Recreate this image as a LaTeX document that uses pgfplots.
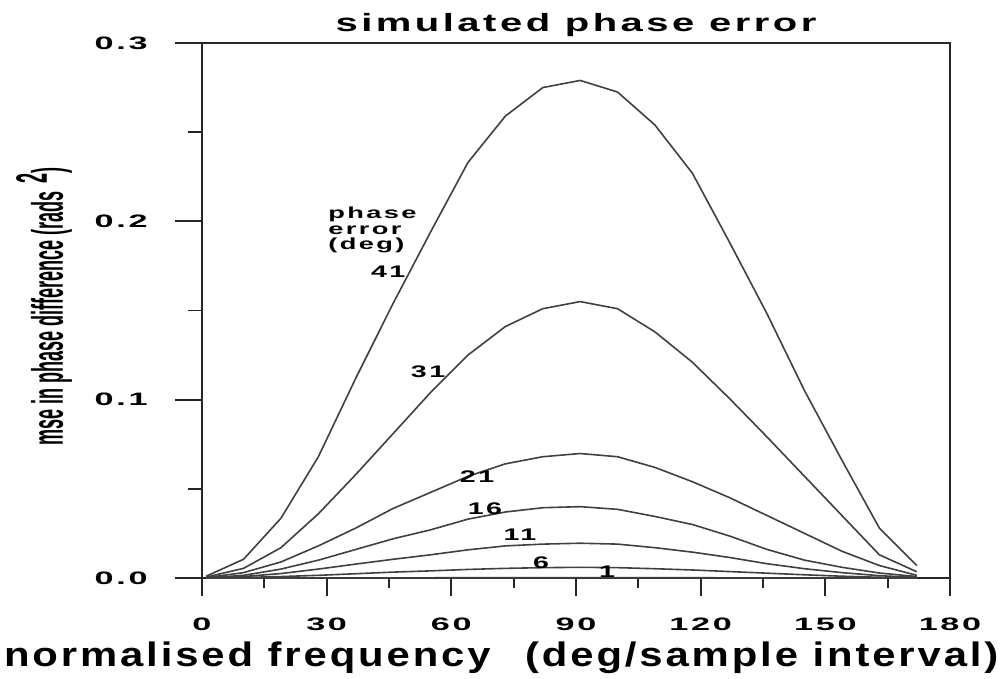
\documentclass[border=0pt]{standalone}
\usepackage{fontspec}
\usepackage{pgfplots}
\pgfplotsset{compat=1.18}
\setmainfont{Liberation Sans}
\newfontfamily\titlefont[FakeStretch=1.6,LetterSpace=14]{Liberation Sans}
\newfontfamily\tickfont[FakeStretch=1.9,LetterSpace=15]{Liberation Sans}
\newfontfamily\numfont[FakeStretch=1.7,LetterSpace=15]{Liberation Sans}
\newfontfamily\xlabfont[FakeStretch=1.23,LetterSpace=8.5]{Liberation Sans}
\newfontfamily\annfont[FakeStretch=1.7,LetterSpace=15]{Liberation Sans}
\newfontfamily\ylabfont[FakeStretch=0.41]{Liberation Sans}

\pgfplotstableread{
x     e41     e31     e21     e16     e11     e6      e1
1     0.001   0.0005  0.0002  0.0000  0.0000  0.0000  0.0000
10    0.0105  0.0054  0.0030  0.0015  0.0008  0.0003  0.00001
19    0.0335  0.0170  0.0090  0.0050  0.0025  0.0008  0.00002
28    0.068   0.036   0.018   0.010   0.0050  0.0015  0.00004
37    0.112   0.058   0.028   0.016   0.0078  0.0024  0.00007
46    0.154   0.081   0.039   0.022   0.0105  0.0033  0.00009
55    0.194   0.104   0.048   0.027   0.0130  0.0040  0.00011
64    0.233   0.125   0.057   0.033   0.0158  0.0048  0.00013
73    0.259   0.141   0.064   0.037   0.0180  0.0054  0.00015
82    0.275   0.151   0.068   0.0394  0.0190  0.0058  0.00016
91    0.279   0.155   0.0698  0.0400  0.0195  0.0060  0.00017
100   0.2725  0.151   0.068   0.0385  0.0190  0.0058  0.00016
109   0.254   0.138   0.062   0.0345  0.0170  0.0052  0.00015
118   0.227   0.121   0.054   0.0300  0.0145  0.0045  0.00013
127   0.188   0.1005  0.045   0.0235  0.0115  0.0036  0.00010
136   0.148   0.079   0.035   0.0160  0.0080  0.0027  0.00008
145   0.105   0.057   0.025   0.0100  0.0052  0.0018  0.00005
154   0.066   0.035   0.015   0.0060  0.0030  0.0010  0.00003
163   0.028   0.013   0.007   0.0028  0.0013  0.0004  0.00001
172   0.007   0.0035  0.0015  0.0008  0.0003  0.0001  0.00000
}\datatable

\begin{document}
\begin{tikzpicture}
\path[use as bounding box] (-101pt,-50.5pt) rectangle (399pt,289pt);
\begin{axis}[
  at={(0,0)}, anchor=south west, scale only axis,
  width=374pt, height=267.5pt,
  xmin=0, xmax=180, ymin=0, ymax=0.3,
  xtick={0,30,...,180}, ytick={0,0.1,0.2,0.3},
  minor x tick num=1, minor y tick num=1,
  tick align=outside, xtick pos=left, ytick pos=left,
  major tick length=9pt, minor tick length=5pt,
  y tick style={/pgfplots/major tick length=13.5pt,/pgfplots/minor tick length=7pt},
  axis line style={line width=0.9pt, black!85},
  tick style={line width=0.9pt, black!85},
  /pgf/number format/assume math mode=true,
  ticklabel style={font={\fontsize{9}{10}\selectfont\tickfont\bfseries}},
  y tick label style={/pgf/number format/fixed, /pgf/number format/fixed zerofill, /pgf/number format/precision=1,
    inner sep=0pt, anchor=east, xshift=-18pt},
  x tick label style={inner sep=0pt, anchor=north, yshift=-11pt},
  title={simulated phase error},
  title style={font={\fontsize{12.5}{14}\selectfont\titlefont\bfseries}, at={(axis description cs:0.5,1.03)}, anchor=base, inner sep=0pt, yshift=-8.5pt},
  xlabel={normalised frequency\hspace{10pt} (deg/sample interval)},
  xlabel style={font={\fontsize{17}{20}\selectfont\xlabfont\bfseries}, at={(axis description cs:0.4,-0.166)}, anchor=base, inner sep=0pt},
  ylabel={mse in phase difference (rads\,\raisebox{8pt}{2})},
  ylabel style={font={\fontsize{22}{24}\selectfont\ylabfont\bfseries}, at={(axis description cs:-0.186,0.507)}, anchor=base, inner sep=0pt},
  curve/.style={line width=0.8pt, black!75, sharp plot, mark=none},
  clip=false,
]
\addplot[curve] table[x=x, y=e41] {\datatable};
\addplot[curve] table[x=x, y=e31] {\datatable};
\addplot[curve] table[x=x, y=e21] {\datatable};
\addplot[curve] table[x=x, y=e16] {\datatable};
\addplot[curve] table[x=x, y=e11] {\datatable};
\addplot[curve] table[x=x, y=e6] {\datatable};
\addplot[curve] table[x=x, y=e1] {\datatable};

\begin{scope}[every node/.style={inner sep=0pt, font={\fontsize{8}{9}\selectfont\annfont\bfseries}}]
\node[anchor=west] at (axis cs:30.3,0.204) {phase};
\node[anchor=west] at (axis cs:30.3,0.195) {error};
\node[anchor=west] at (axis cs:30.3,0.1867) {(deg)};
\end{scope}
\begin{scope}[every node/.style={inner sep=0pt, font={\fontsize{8.4}{10}\selectfont\numfont\bfseries}}]
\node at (axis cs:44.8,0.1715) {41};
\node at (axis cs:54.4,0.1155) {31};
\node at (axis cs:66.2,0.0566) {21};
\node at (axis cs:68.1,0.0387) {16};
\node at (axis cs:76.5,0.0241) {11};
\node at (axis cs:81.6,0.0084) {6};
\node at (axis cs:97.5,0.0034) {1};
\end{scope}
\end{axis}
\end{tikzpicture}
\end{document}
